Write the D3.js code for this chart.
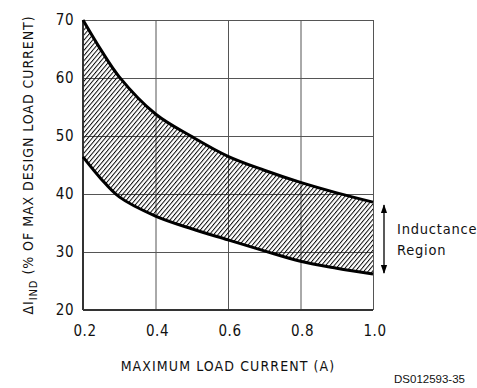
<!DOCTYPE html>
<html>
<head>
<meta charset="utf-8">
<script src="https://cdn.jsdelivr.net/npm/d3@7"></script>
<style>
  body { margin: 0; background: #fff; }
  svg text { font-family: "DejaVu Sans Condensed", "DejaVu Sans", sans-serif; fill: #111; }
</style>
</head>
<body>
<svg id="chart" width="477" height="388"></svg>
<script>
// values
var current = [0.2, 0.25, 0.3, 0.4, 0.5, 0.6, 0.7, 0.8, 0.9, 1.0];
var upperPct = [70, 64.8, 60.2, 53.8, 49.9, 46.5, 44.1, 42.0, 40.2, 38.6];
var lowerPct = [46.4, 42.6, 39.5, 36.2, 34.0, 32.1, 30.2, 28.4, 27.2, 26.2];
var xTicks = [0.2, 0.4, 0.6, 0.8, 1.0];
var yTicks = [20, 30, 40, 50, 60, 70];

// plot box
var margin = {top: 20, right: 104, bottom: 78, left: 83};
var width = 477 - margin.left - margin.right;
var height = 388 - margin.top - margin.bottom;

var svg = d3.select("#chart");

// hatch for the inductance band
var defs = svg.append("defs");
var hatch = defs.append("pattern")
    .attr("id", "hatch")
    .attr("patternUnits", "userSpaceOnUse")
    .attr("width", 3.3)
    .attr("height", 10)
    .attr("patternTransform", "rotate(40)");
hatch.append("line")
    .attr("x1", 0.5).attr("y1", 0)
    .attr("x2", 0.5).attr("y2", 10)
    .attr("stroke", "#000")
    .attr("stroke-width", 0.95);

defs.append("marker")
    .attr("id", "head")
    .attr("viewBox", "0 0 10 10")
    .attr("refX", 9).attr("refY", 5)
    .attr("markerWidth", 9).attr("markerHeight", 9)
    .attr("markerUnits", "userSpaceOnUse")
    .attr("orient", "auto-start-reverse")
    .append("path")
    .attr("d", "M0,1.5 L10,5 L0,8.5 Z")
    .attr("fill", "#000");

var g = svg.append("g")
    .attr("transform", "translate(" + margin.left + "," + margin.top + ")");

var x = d3.scaleLinear().domain([0.2, 1.0]).range([0, width]);
var y = d3.scaleLinear().domain([20, 70]).range([height, 0]);

// grid
var gx = g.append("g")
    .attr("transform", "translate(0," + height + ")")
    .call(d3.axisBottom(x).tickValues(xTicks).tickSize(-height).tickFormat(""));
var gy = g.append("g")
    .call(d3.axisLeft(y).tickValues(yTicks).tickSize(-width).tickFormat(""));
[gx, gy].forEach(function(a) {
    a.select(".domain").remove();
    a.selectAll("line").attr("stroke", "#555").attr("stroke-width", 1);
});

// band between the curves
var smooth = d3.curveCatmullRom.alpha(0.5);
var area = d3.area()
    .x(function(d, i) { return x(current[i]); })
    .y0(function(d, i) { return y(lowerPct[i]); })
    .y1(function(d, i) { return y(upperPct[i]); })
    .curve(smooth);
g.append("path")
    .datum(current)
    .attr("d", area)
    .attr("fill", "url(#hatch)");

// frame: left and bottom heavier
g.append("line").attr("x1", 0).attr("x2", 0).attr("y1", 0).attr("y2", height)
    .attr("stroke", "#333").attr("stroke-width", 2);
g.append("line").attr("x1", 0).attr("x2", width).attr("y1", height).attr("y2", height)
    .attr("stroke", "#333").attr("stroke-width", 2);

// boundary curves
[upperPct, lowerPct].forEach(function(vals) {
    var line = d3.line()
        .x(function(d, i) { return x(current[i]); })
        .y(function(d) { return y(d); })
        .curve(smooth);
    g.append("path")
        .datum(vals)
        .attr("d", line)
        .attr("fill", "none")
        .attr("stroke", "#000")
        .attr("stroke-width", 3);
});

// tick labels
g.selectAll("text.xt")
    .data(xTicks)
    .enter().append("text")
    .attr("class", "xt")
    .attr("x", function(d) { return x(d) + 2; })
    .attr("y", height + 26)
    .attr("text-anchor", "middle")
    .style("font-size", "15px")
    .style("letter-spacing", "0.5px")
    .text(function(d) { return d.toFixed(1); });
g.selectAll("text.yt")
    .data(yTicks)
    .enter().append("text")
    .attr("class", "yt")
    .attr("x", -9)
    .attr("y", function(d) { return y(d) + 5; })
    .attr("text-anchor", "end")
    .style("font-size", "15px")
    .style("letter-spacing", "0.5px")
    .text(function(d) { return d; });

// axis titles
g.append("text")
    .attr("x", width / 2)
    .attr("y", height + 61)
    .attr("text-anchor", "middle")
    .style("font-size", "14px")
    .style("letter-spacing", "1.1px")
    .text("MAXIMUM LOAD CURRENT (A)");

var yl = svg.append("text")
    .attr("transform", "translate(33,165) rotate(-90)")
    .attr("text-anchor", "middle")
    .style("font-size", "14px")
    .style("letter-spacing", "0.95px");
yl.append("tspan").text("\u0394I");
yl.append("tspan").attr("dy", 4).style("font-size", "11px").text("IND");
yl.append("tspan").attr("dy", -4).text(" (% OF MAX DESIGN LOAD CURRENT)");

// inductance region marker
var ax = x(1.0) + 11;
g.append("line")
    .attr("x1", ax).attr("x2", ax)
    .attr("y1", y(upperPct[upperPct.length - 1]) + 3)
    .attr("y2", y(lowerPct[lowerPct.length - 1]) - 1)
    .attr("stroke", "#000")
    .attr("stroke-width", 1.3)
    .attr("marker-start", "url(#head)")
    .attr("marker-end", "url(#head)");
g.append("text")
    .attr("x", ax + 13).attr("y", 214)
    .style("font-size", "14.5px")
    .style("letter-spacing", "0.8px")
    .text("Inductance");
g.append("text")
    .attr("x", ax + 13).attr("y", 235)
    .style("font-size", "14.5px")
    .style("letter-spacing", "0.8px")
    .text("Region");

svg.append("text")
    .attr("x", 465).attr("y", 383)
    .attr("text-anchor", "end")
    .style("font-family", "'Liberation Sans', Arial, sans-serif")
    .style("font-size", "11.5px")
    .text("DS012593-35");
</script>
</body>
</html>
